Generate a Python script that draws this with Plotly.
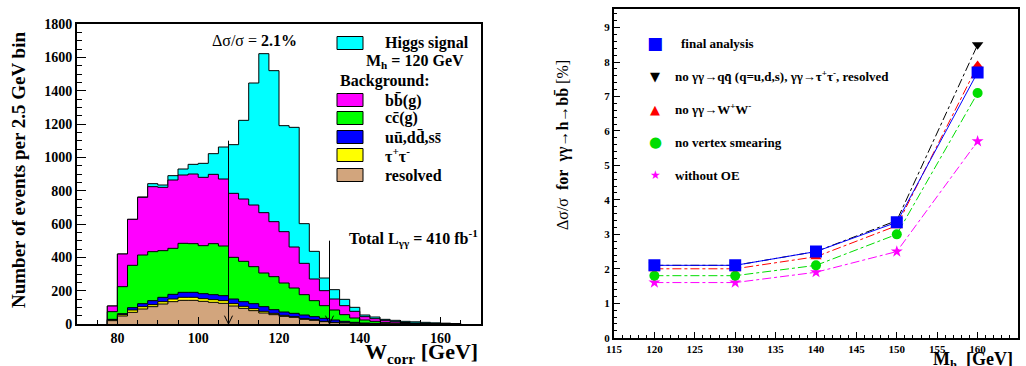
import numpy as np
import plotly.graph_objects as go

# ---------------- Left panel: W_corr histogram (2.5 GeV bins from 77.5 GeV) ----------------
bin_low = 77.5
bin_width = 2.5
resolved = [20, 48, 70, 90, 104, 120, 134, 142, 142, 136, 130, 124, 108, 94, 80, 66, 56, 46,
            40, 28, 22, 14, 8, 6, 4, 2, 2, 1, 1, 0, 0, 0, 0, 0, 0]
tautau = [4, 8, 14, 14, 12, 14, 16, 18, 18, 16, 16, 16, 14, 12, 12, 10, 8, 6,
          4, 4, 4, 2, 2, 1, 1, 1, 0, 0, 0, 0, 0, 0, 0, 0, 0]
uds = [4, 6, 14, 18, 24, 26, 28, 30, 30, 30, 30, 30, 28, 28, 30, 28, 22, 20,
       20, 22, 18, 18, 14, 9, 5, 3, 2, 2, 1, 1, 1, 0, 0, 0, 0]
ccbar = [46, 162, 254, 292, 294, 280, 276, 294, 292, 288, 306, 298, 250, 242, 222, 202, 198, 174,
         152, 122, 96, 76, 60, 40, 26, 18, 12, 7, 4, 3, 2, 2, 1, 1, 0]
bbbar = [34, 196, 276, 346, 390, 380, 410, 410, 418, 410, 416, 402, 384, 374, 370, 362, 330, 308,
         246, 188, 130, 90, 66, 54, 40, 20, 16, 12, 8, 5, 3, 2, 2, 1, 1]
signal = [0, 0, 0, 2, 18, 14, 26, 36, 58, 84, 124, 192, 292, 472, 732, 954, 906, 636,
          718, 238, 166, 76, 56, 38, 24, 10, 10, 6, 8, 7, 7, 6, 4, 3, 2]
cut_positions = [107.5, 132.5]
cut_line_tops = [1100, 500]

# ---------------- Right panel: relative precision vs M_h ----------------
mh = [120, 130, 140, 150, 160]
final_analysis = [2.1, 2.1, 2.5, 3.35, 7.7]
no_qq_tautau_resolved = [2.1, 2.1, 2.5, 3.4, 8.5]
no_ww = [2.0, 2.0, 2.35, 3.25, 7.9]
no_vertex_smearing = [1.8, 1.8, 2.1, 3.0, 7.1]
without_oe = [1.6, 1.6, 1.9, 2.5, 5.7]

W, H = 1026, 366
SERIF = "Liberation Serif"


def px(x):
    return x / W


def py(y):
    return 1 - y / H


fig = go.Figure()

# stacked (cumulative) step histograms, drawn from the total downwards
comps = [resolved, tautau, uds, ccbar, bbbar, signal]
colors = ["#D2A57D", "#FFFF00", "#0000FF", "#00FF00", "#FF00FF", "#00FFFF"]
names = ["resolved", "tautau", "uds", "cc", "bb", "Higgs signal"]
cum = np.cumsum(np.array(comps, dtype=float), axis=0)
n = len(resolved)
edges = bin_low + bin_width * np.arange(n + 1)
for i in range(len(comps) - 1, -1, -1):
    vals = cum[i]
    xs = [edges[0]] + list(edges[:-1]) + [edges[-1]]
    ys = [0.0] + list(vals) + [0.0]
    fig.add_trace(go.Scatter(x=xs, y=ys, mode="lines", line=dict(shape="hv", color="black", width=1),
                             fill="tozeroy", fillcolor=colors[i], name=names[i], showlegend=False,
                             xaxis="x", yaxis="y", hoverinfo="skip"))

# cut lines with open arrowheads
for c, top in zip(cut_positions, cut_line_tops):
    aw, ah = 1.0, 50
    fig.add_trace(go.Scatter(x=[c, c, None, c - aw, c, c + aw], y=[top, 0, None, ah, 0, ah],
                             mode="lines", line=dict(color="black", width=1), showlegend=False,
                             xaxis="x", yaxis="y", hoverinfo="skip"))

# right panel curves
series = [
    (without_oe, "#FF00FF", "star", 9, "dashdot"),
    (no_vertex_smearing, "#00DD00", "circle", 10, "dashdot"),
    (no_ww, "#FF0000", "triangle-up", 10, "dashdot"),
    (no_qq_tautau_resolved, "black", "triangle-down", 10, "dashdot"),
    (final_analysis, "#0000FF", "square", 12, "solid"),
]
for vals, col, sym, size, dash in series:
    fig.add_trace(go.Scatter(x=mh, y=vals, mode="lines+markers",
                             line=dict(color=col, width=1, dash=dash),
                             marker=dict(symbol=sym, size=size, color=col, line=dict(width=0)),
                             showlegend=False, xaxis="x2", yaxis="y2"))

axis_common = dict(showline=True, linecolor="black", mirror=True, showgrid=False, zeroline=False,
                   ticks="inside", tickcolor="black", automargin=False)

fig.update_layout(
    width=W, height=H, autosize=False,
    margin=dict(l=0, r=0, t=0, b=0, pad=0),
    paper_bgcolor="white", plot_bgcolor="white",
    xaxis=dict(domain=[px(77), px(481)], range=[70, 170], anchor="y", dtick=20, tick0=80,
               ticklen=7, linewidth=2,
               minor=dict(ticks="inside", dtick=5, ticklen=4, tickcolor="black"),
               tickfont=dict(family=SERIF, size=14, color="black", weight="bold"), **axis_common),
    yaxis=dict(domain=[py(324), py(24)], range=[0, 1800], anchor="x", dtick=200,
               ticklen=9, linewidth=2,
               minor=dict(ticks="inside", dtick=50, ticklen=5, tickcolor="black"),
               tickfont=dict(family=SERIF, size=14, color="black", weight="bold"), **axis_common),
    xaxis2=dict(domain=[px(614), px(1018)], range=[115, 165], anchor="y2", dtick=5,
                ticklen=6, linewidth=2,
                minor=dict(ticks="inside", dtick=1, ticklen=3, tickcolor="black"),
                tickfont=dict(family=SERIF, size=11, color="black", weight="bold"), **axis_common),
    yaxis2=dict(domain=[py(337.7), py(9)], range=[0, 9.54], anchor="x2", dtick=1,
                ticklen=6, linewidth=2,
                minor=dict(ticks="inside", dtick=0.2, ticklen=3, tickcolor="black"),
                tickfont=dict(family=SERIF, size=11, color="black", weight="bold"), **axis_common),
)

ann = []


def text(x, y, s, size, xanchor="left", bold=True, color="black", angle=0, yanchor="middle"):
    ann.append(dict(x=px(x), y=py(y), xref="paper", yref="paper", text=s, showarrow=False,
                    xanchor=xanchor, yanchor=yanchor, textangle=angle,
                    font=dict(family=SERIF, size=size, color=color, weight="bold" if bold else "normal")))


# left panel texts
text(18, 170, "Number of events per 2.5 GeV bin", 19, xanchor="center", angle=-90)
text(480, 353, "W<sub>corr</sub> [GeV]", 22, xanchor="right")
text(210, 40, "Δσ/σ = <b>2.1%</b>", 16, bold=False)
text(347, 238, "Total L<sub>γγ</sub> = 410 fb<sup>-1</sup>", 16)

# left legend
leg_shapes = []
box_rows = [(43, "#00FFFF", "Higgs signal"), (100, "#FF00FF", "bb\u0304(g)"),
            (118, "#00FF00", "cc\u0304(g)"), (137, "#0000FF", "u\u016b,dd\u0304,ss\u0304"),
            (155, "#FFFF00", "τ<sup>+</sup>τ<sup>-</sup>"), (175, "#D2A57D", "resolved")]
for yc, col, lab in box_rows:
    leg_shapes.append(dict(type="rect", xref="paper", yref="paper", x0=px(337), x1=px(363),
                           y0=py(yc + 6.5), y1=py(yc - 6.5), fillcolor=col,
                           line=dict(color="black", width=1)))
    text(383, yc, lab, 16)
text(364, 62, "M<sub>h</sub> = 120 GeV", 16)
text(338, 81, "Background:", 16)

# right panel texts
text(562, 145, "Δσ/σ\u00a0\u00a0<b>for\u00a0\u00a0γγ→h→bb\u0304</b> [%]", 16, xanchor="center", angle=-90, bold=False)
text(1015, 347, "M<sub>h</sub>\u00a0\u00a0[GeV]", 18, xanchor="right", yanchor="top")

leg_rows = [(43, "■", "#0000FF", 17, 679, "final analysis"),
            (76, "▼", "black", 13, 673, "no γγ→qq\u0304 (q=u,d,s), γγ→τ<sup>+</sup>τ<sup>-</sup>, resolved"),
            (109, "▲", "#FF0000", 13, 673, "no γγ→W<sup>+</sup>W<sup>-</sup>"),
            (142, "●", "#00DD00", 15, 673, "no vertex smearing"),
            (175, "★", "#FF00FF", 12, 673, "without OE")]
for yc, glyph, col, gs, tx, lab in leg_rows:
    ann.append(dict(x=px(655), y=py(yc), xref="paper", yref="paper", text=glyph, showarrow=False,
                    xanchor="center", yanchor="middle",
                    font=dict(family="DejaVu Sans", size=gs, color=col)))
    text(tx, yc, lab, 13)

fig.update_layout(annotations=ann, shapes=leg_shapes)
fig.write_html("out.html", config={"displayModeBar": False},
               post_script="document.body.style.margin='0';document.body.style.padding='0';"
                           "document.documentElement.style.overflow='hidden';")
